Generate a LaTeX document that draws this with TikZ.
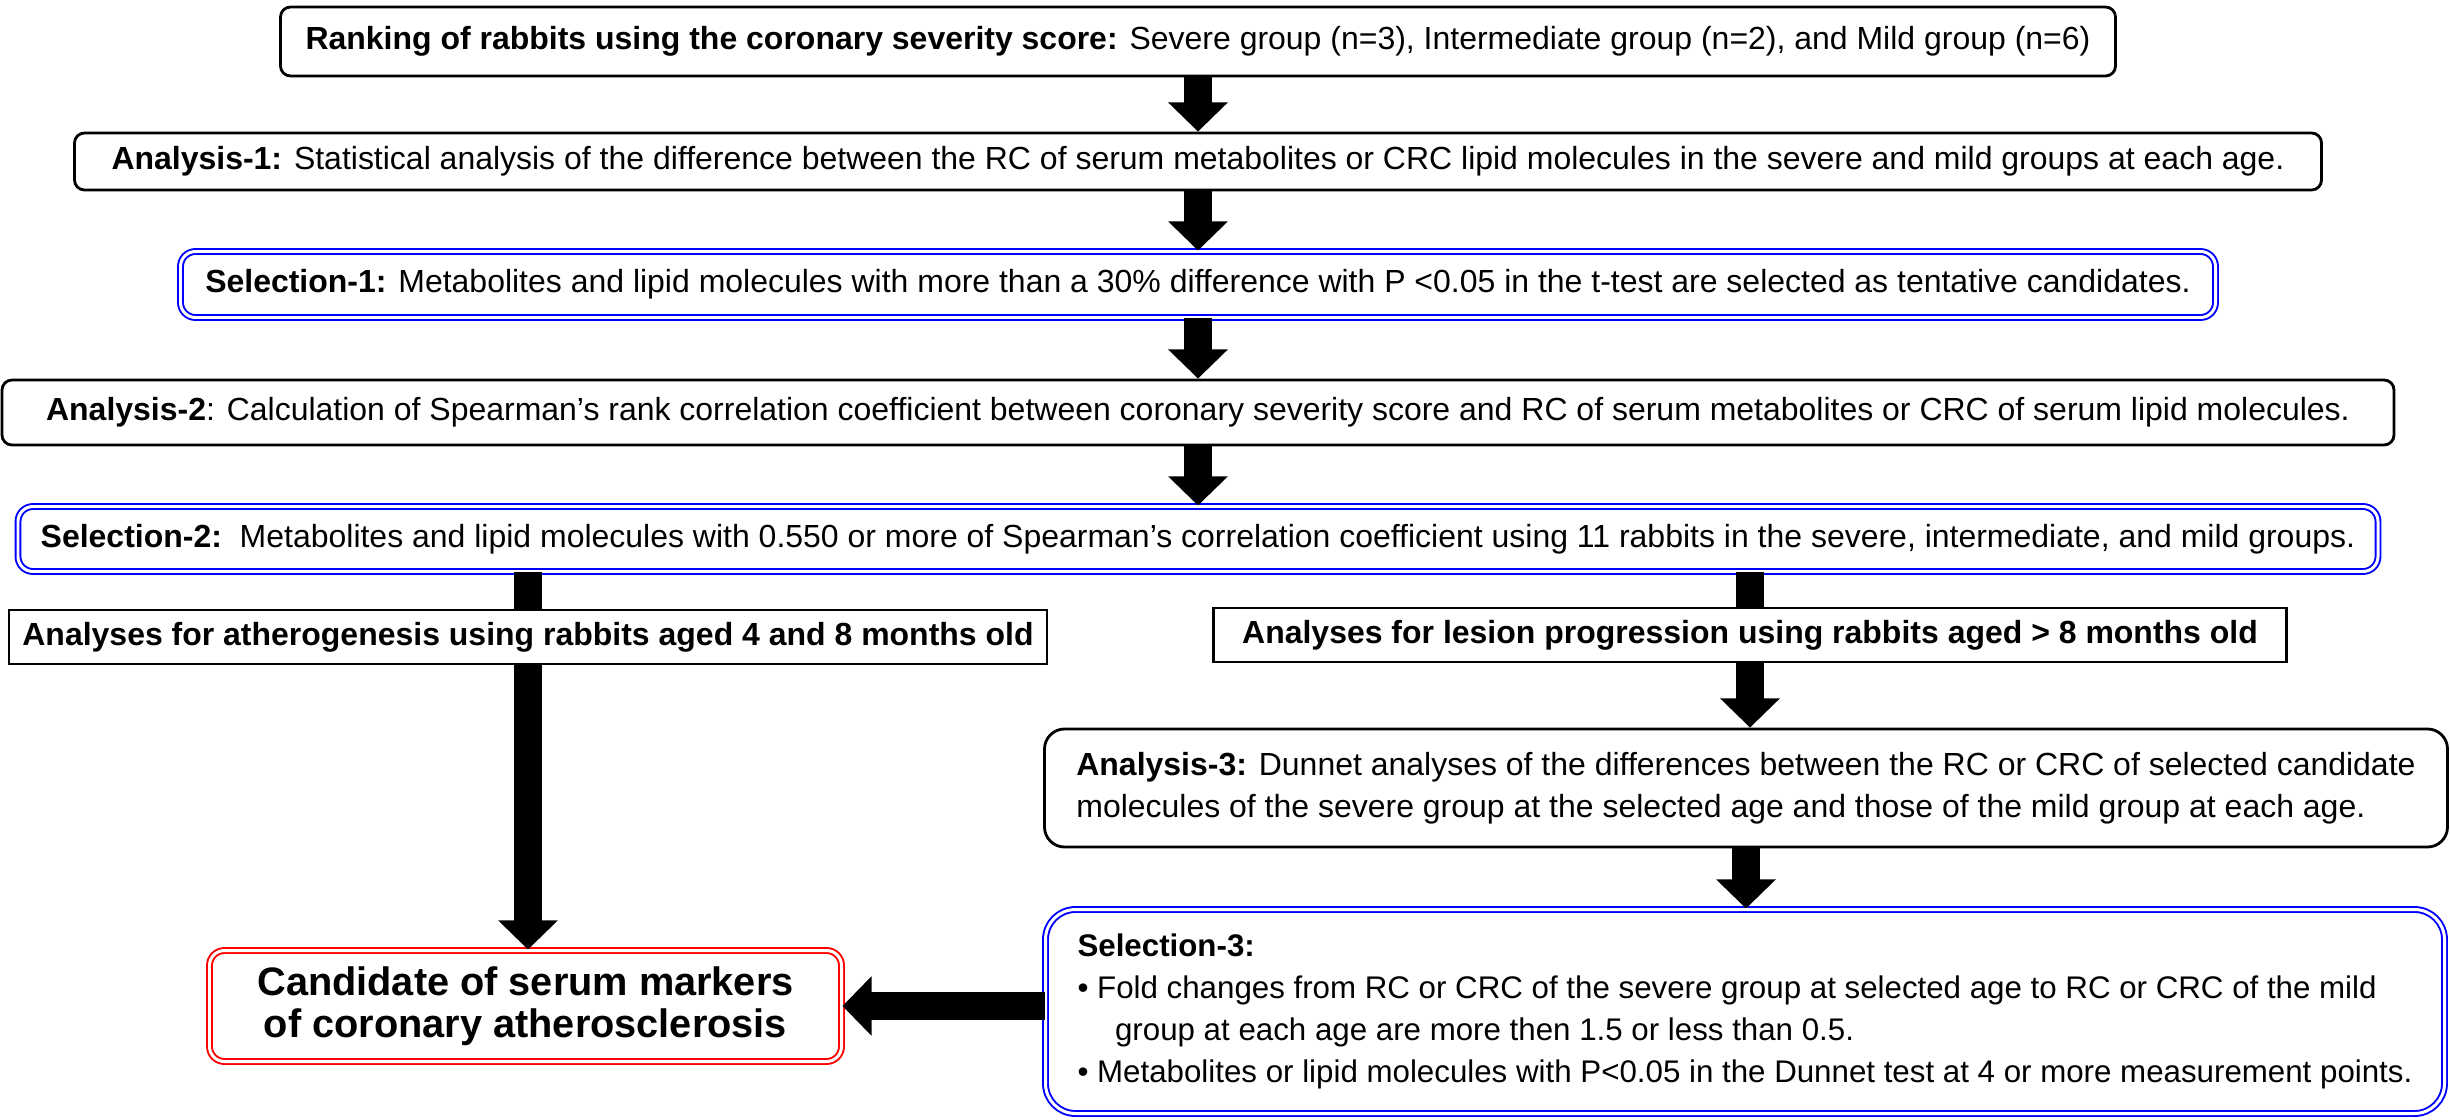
\documentclass[tikz,border=0pt]{standalone}
\usepackage{fontspec}
\setmainfont{Liberation Sans}
\usetikzlibrary{arrows.meta}

\begin{document}
\begin{tikzpicture}[
    box/.style={draw, line width=0.8pt, rounded corners=1mm, fill=white, inner sep=0pt,
        align=center, font=\fontsize{9.1}{12}\selectfont},
    sqbox/.style={box, rounded corners=0pt, line width=0.6pt, font=\fontsize{9.1}{12}\selectfont\bfseries},
    selbox/.style={box, draw=blue, line width=0.55pt, double=white, double distance=0.85pt, rounded corners=1.5mm},
    endbox/.style={selbox, draw=red, font=\fontsize{11.3}{12}\selectfont\bfseries},
    fatarrow/.style={line width=7.9pt, -{Triangle[width=16.5pt,length=8.3pt]}},
    bar/.style={line width=7.9pt}]
\useasboundingbox (0,0) rectangle (24.5,-11.2);

% main column
\node[box, minimum width=18.35cm, minimum height=0.69cm] (rank) at (11.98,-0.415)
    {\textbf{Ranking of rabbits using the coronary severity score:} Severe group (n=3), Intermediate group (n=2), and Mild group (n=6)};
\node[box, minimum width=22.47cm, minimum height=0.57cm] (ana1) at (11.98,-1.615)
    {\textbf{Analysis-1:} Statistical analysis of the difference between the RC of serum metabolites or CRC lipid molecules in the severe and mild groups at each age.};
\node[selbox, minimum width=20.35cm, minimum height=0.66cm] (sel1) at (11.98,-2.845)
    {\textbf{Selection-1:} Metabolites and lipid molecules with more than a 30\% difference with P <0.05 in the t-test are selected as tentative candidates.};
\node[box, minimum width=23.92cm, minimum height=0.65cm] (ana2) at (11.98,-4.125)
    {\textbf{Analysis-2}: Calculation of Spearman’s rank correlation coefficient between coronary severity score and RC of serum metabolites or CRC of serum lipid molecules.};
\node[selbox, minimum width=23.6cm, minimum height=0.65cm] (sel2) at (11.98,-5.39)
    {\textbf{Selection-2:}\ \ Metabolites and lipid molecules with 0.550 or more of Spearman’s correlation coefficient using 11 rabbits in the severe, intermediate, and mild groups.};

% two branches
\node[sqbox, minimum width=10.38cm, minimum height=0.54cm] (athero) at (5.28,-6.37)
    {Analyses for atherogenesis using rabbits aged 4 and 8 months old};
\node[sqbox, minimum width=10.73cm, minimum height=0.54cm] (lesion) at (17.5,-6.35)
    {Analyses for lesion progression using rabbits aged > 8 months old};
\node[box, rounded corners=2mm, minimum width=14.03cm, minimum height=1.18cm, align=left] (ana3) at (17.46,-7.88)
    {\textbf{Analysis-3:} Dunnet analyses of the differences between the RC or CRC of selected candidate\\
     molecules of the severe group at the selected age and those of the mild group at each age.};
\node[selbox, rounded corners=3mm, minimum width=13.99cm, minimum height=2.04cm, align=left,
      font=\fontsize{8.9}{12}\selectfont] (sel3) at (17.45,-10.115)
    {\textbf{Selection-3:}\\
     \textbullet\ Fold changes from RC or CRC of the severe group at selected age to RC or CRC of the mild\\
     \hspace*{1.2em}group at each age are more then 1.5 or less than 0.5.\\
     \textbullet\ Metabolites or lipid molecules with P<0.05 in the Dunnet test at 4 or more measurement points.};
\node[endbox, minimum width=6.32cm, minimum height=1.11cm] (cand) at (5.255,-10.06)
    {Candidate of serum markers\\of coronary atherosclerosis};

% arrows
\draw[fatarrow] (rank) -- (ana1);
\draw[fatarrow] (ana1) -- (sel1);
\draw[fatarrow] (sel1) -- (ana2);
\draw[fatarrow] (ana2) -- (sel2);
\draw[bar] (sel2.south -| athero.north) -- (athero.north);
\draw[fatarrow] (athero.south) -- (athero.south |- cand.north);
\draw[bar] (sel2.south -| lesion.north) -- (lesion.north);
\draw[fatarrow] (lesion.south) -- (lesion.south |- ana3.north);
\draw[fatarrow] (ana3.south) -- (ana3.south |- sel3.north);
\draw[fatarrow] (sel3.west |- cand.east) -- (cand.east);
\end{tikzpicture}
\end{document}
